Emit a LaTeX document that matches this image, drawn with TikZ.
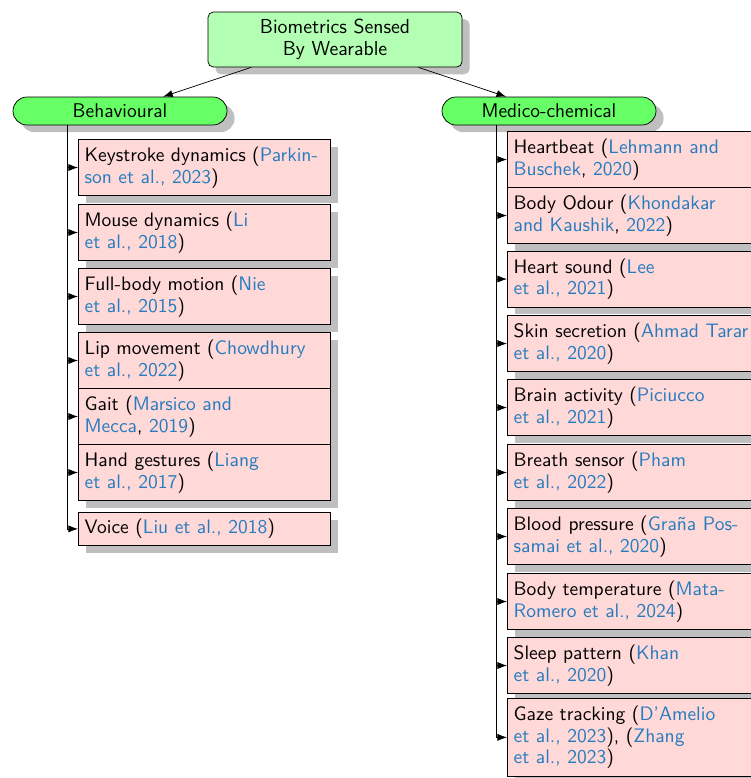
\documentclass[tikz,border=0pt]{standalone}
\usetikzlibrary{shapes.misc,shadows,arrows.meta,calc}
\definecolor{citeblue}{RGB}{38,124,190}
\definecolor{boxpink}{RGB}{255,216,216}
\definecolor{rootgreen}{RGB}{179,255,179}
\definecolor{pillgreen}{RGB}{102,255,102}
\definecolor{shadowgray}{RGB}{191,191,191}
\newcommand{\cit}[1]{\textcolor{citeblue}{#1}}
\newcommand{\lin}[1]{\mbox{#1}}
\tikzset{
  shadowed/.style={drop shadow={shadow xshift=4.2pt,shadow yshift=-4pt,fill=shadowgray,opacity=1}},
  rootbox/.style={draw, rounded corners=3pt, fill=rootgreen, minimum width=140.7pt, minimum height=30.5pt, align=center, inner sep=0pt, font=\sffamily\fontsize{11.2}{12}\selectfont, shadowed},
  pillbox/.style={rounded rectangle, draw, fill=pillgreen, minimum width=118.5pt, minimum height=15.5pt, inner sep=0pt, font=\sffamily\fontsize{11}{12}\selectfont, shadowed},
  leafbox/.style={draw, fill=boxpink, text width=132.6pt, align=left, anchor=north west, inner xsep=3.5pt, inner ysep=4.2pt, font=\sffamily\fontsize{10.8}{12}\selectfont, shadowed},
  edgearrow/.style={-{Latex[length=5.3pt,width=3.9pt]}}
}
\begin{document}
\begin{tikzpicture}[x=0.5538pt,y=-0.5538pt,font=\sffamily]
\useasboundingbox (0,0) rectangle (751,778);
\clip (0,0) rectangle (751,778);

\node[rootbox] (root) at (335,39.5) {Biometrics Sensed\\By Wearable};
\node[pillbox] (beh) at (120,111) {Behavioural};
\node[pillbox] (med) at (549,111) {Medico-chemical};

% left leaves
\node[leafbox] (l1) at (78,139) {\lin{Keystroke dynamics (\cit{Parkin-}}\\\lin{\cit{son et al., 2023})}};
\node[leafbox] (l2) at (78,204) {\lin{Mouse dynamics (\cit{Li}}\\\lin{\cit{et al., 2018})}};
\node[leafbox] (l3) at (78,268) {\lin{Full-body motion (\cit{Nie}}\\\lin{\cit{et al., 2015})}};
\node[leafbox] (l4) at (78,332) {\lin{Lip movement (\cit{Chowdhury}}\\\lin{\cit{et al., 2022})}};
\node[leafbox] (l5) at (78,388) {\lin{Gait (\cit{Marsico and}}\\\lin{\cit{Mecca}, \cit{2019})}};
\node[leafbox] (l6) at (78,444) {\lin{Hand gestures (\cit{Liang}}\\\lin{\cit{et al., 2017})}};
\node[leafbox,inner ysep=3.75pt] (l7) at (78,512) {\lin{Voice (\cit{Liu et al., 2018})}};

% right leaves
\node[leafbox] (r1) at (507,131) {\lin{Heartbeat (\cit{Lehmann and}}\\\lin{\cit{Buschek}, \cit{2020})}};
\node[leafbox] (r2) at (507,187) {\lin{Body Odour (\cit{Khondakar}}\\\lin{\cit{and Kaushik}, \cit{2022})}};
\node[leafbox] (r3) at (507,250.5) {\lin{Heart sound (\cit{Lee}}\\\lin{\cit{et al., 2021})}};
\node[leafbox] (r4) at (507,315) {\lin{Skin secretion (\cit{Ahmad Tarar}}\\\lin{\cit{et al., 2020})}};
\node[leafbox] (r5) at (507,379) {\lin{Brain activity (\cit{Piciucco}}\\\lin{\cit{et al., 2021})}};
\node[leafbox] (r6) at (507,444) {\lin{Breath sensor (\cit{Pham}}\\\lin{\cit{et al., 2022})}};
\node[leafbox] (r7) at (507,508) {\lin{Blood pressure (\cit{Graña Pos-}}\\\lin{\cit{samai et al., 2020})}};
\node[leafbox] (r8) at (507,573) {\lin{Body temperature (\cit{Mata-}}\\\lin{\cit{Romero et al., 2024})}};
\node[leafbox] (r9) at (507,637) {\lin{Sleep pattern (\cit{Khan}}\\\lin{\cit{et al., 2020})}};
\node[leafbox] (r10) at (507,698) {\lin{Gaze tracking (\cit{D'Amelio}}\\\lin{\cit{et al., 2023}), (\cit{Zhang}}\\\lin{\cit{et al., 2023})}};

% connectors
\draw[edgearrow] (root) -- (beh);
\draw[edgearrow] (root) -- (med);
\foreach \n in {l1,l2,l3,l4,l5,l6,l7}
  \draw[edgearrow] ($(beh.south)+(-53,0)$) |- (\n.west);
\foreach \n in {r1,r2,r3,r4,r5,r6,r7,r8,r9,r10}
  \draw[edgearrow] ($(med.south)+(-53,0)$) |- (\n.west);
\end{tikzpicture}
\end{document}
